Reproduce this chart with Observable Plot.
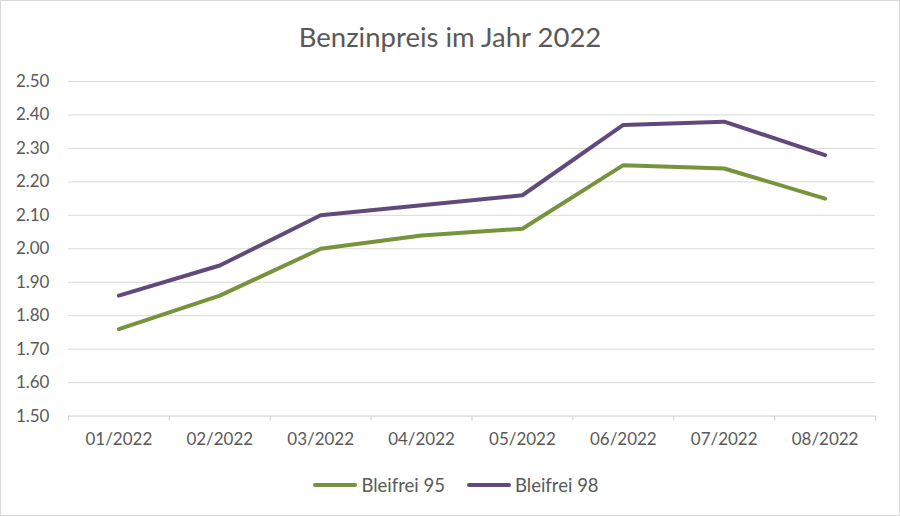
<!DOCTYPE html>
<html>
<head>
<meta charset="utf-8">
<script src="https://cdn.jsdelivr.net/npm/d3@7"></script>
<script src="https://cdn.jsdelivr.net/npm/@observablehq/plot@0.6"></script>
<style>
  html, body { margin: 0; padding: 0; background: #fff; }
  #chart { position: relative; width: 900px; height: 516px; box-sizing: border-box; border: 1px solid #d9d9d9; font-family: Lato, "Noto Sans", sans-serif; color: #595959; overflow: hidden; }
  #title { position: absolute; left: 0; top: 19px; width: 100%; text-align: center; font-size: 27.5px; line-height: 34px; color: #595959; }
  #plot { position: absolute; left: -1px; top: 58px; }
  #legend { position: absolute; left: 6px; top: 471px; width: 100%; display: flex; justify-content: center; align-items: center; font-size: 18.5px; line-height: 26px; }
  .item { display: flex; align-items: center; margin: 0 11px; }
  .swatch { width: 44px; height: 4px; border-radius: 2px; margin-right: 4px; }
</style>
</head>
<body>
<div id="chart">
  <div id="title">Benzinpreis im Jahr 2022</div>
  <div id="plot"></div>
  <div id="legend"></div>
</div>
<script>
const months = ["01/2022", "02/2022", "03/2022", "04/2022", "05/2022", "06/2022", "07/2022", "08/2022"];
const bleifrei95 = [1.76, 1.86, 2.00, 2.04, 2.06, 2.25, 2.24, 2.15];
const bleifrei98 = [1.86, 1.95, 2.10, 2.13, 2.16, 2.37, 2.38, 2.28];
const seriesNames = ["Bleifrei 95", "Bleifrei 98"];
const seriesColors = ["#77933C", "#604A7B"];
const yTicks = [1.5, 1.6, 1.7, 1.8, 1.9, 2.0, 2.1, 2.2, 2.3, 2.4, 2.5];

const data = [];
[bleifrei95, bleifrei98].forEach((vals, s) => {
  vals.forEach((v, i) => data.push({series: seriesNames[s], i, value: v}));
});
const idx = months.map((m, i) => i);
const bounds = d3.range(months.length + 1).map(i => i - 0.5);

const chart = Plot.plot({
  width: 900,
  height: 397,
  marginTop: 22,
  marginBottom: 40,
  marginLeft: 68,
  marginRight: 24,
  style: {fontFamily: "Lato, 'Noto Sans', sans-serif", fontSize: "17px", color: "#595959", background: "transparent"},
  x: {domain: [-0.5, months.length - 0.5]},
  y: {domain: [1.5, 2.5]},
  color: {domain: seriesNames, range: seriesColors},
  marks: [
    Plot.ruleY(yTicks.slice(1), {stroke: "#d9d9d9", strokeWidth: 1}),
    Plot.ruleY([1.5], {stroke: "#d0d0d0", strokeWidth: 1}),
    Plot.ruleX(bounds, {x: d => d, y1: 1.5, y2: 1.485, stroke: "#d0d0d0", strokeWidth: 1}),
    Plot.axisY({ticks: yTicks, tickFormat: d3.format(".2f"), tickSize: 0, tickPadding: 19, label: null, fill: "#595959"}),
    Plot.axisX({ticks: idx, tickFormat: i => months[i], tickSize: 0, tickPadding: 17, label: null, fill: "#595959"}),
    Plot.line(data, {x: "i", y: "value", z: "series", stroke: "series", strokeWidth: 4, strokeLinecap: "round", strokeLinejoin: "round"})
  ]
});
document.getElementById("plot").appendChild(chart);

const legend = document.getElementById("legend");
seriesNames.forEach((n, k) => {
  const item = document.createElement("div");
  item.className = "item";
  const sw = document.createElement("div");
  sw.className = "swatch";
  sw.style.background = seriesColors[k];
  const label = document.createElement("span");
  label.textContent = n;
  item.appendChild(sw);
  item.appendChild(label);
  legend.appendChild(item);
});
</script>
</body>
</html>
